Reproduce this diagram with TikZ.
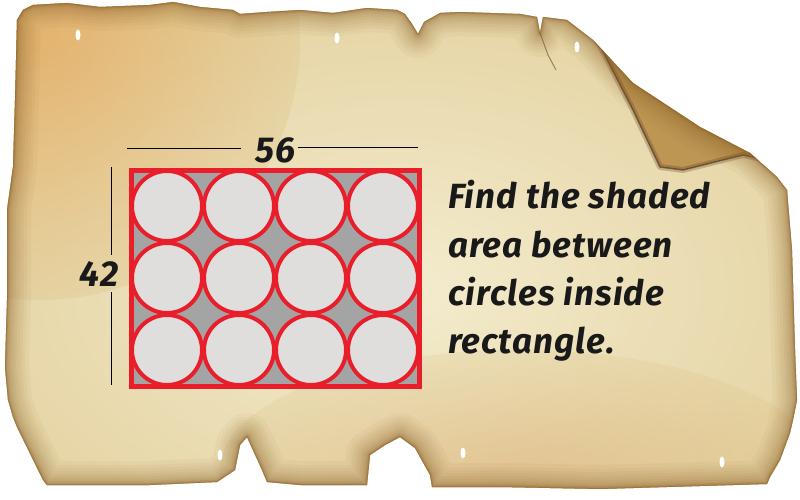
\documentclass[tikz,border=0pt]{standalone}
\usepackage{fontspec}
\newfontfamily\cmc{Fira Sans}[LetterSpace=3]
\definecolor{parchlight}{RGB}{243,236,206}
\definecolor{parchbase}{RGB}{222,198,140}
\definecolor{edgebrown}{RGB}{160,112,50}
\definecolor{burnt}{RGB}{72,46,20}
\definecolor{flapcol}{RGB}{190,150,84}
\definecolor{redline}{RGB}{232,30,42}
\definecolor{circfill}{RGB}{224,222,220}
\definecolor{gapfill}{RGB}{164,164,164}
\tikzset{
  circ/.style={circle, draw=redline, line width=4pt, fill=circfill, minimum size=70pt, inner sep=0pt},
  qline/.style={anchor=base west, inner sep=0pt, font=\cmc\bfseries\itshape\fontsize{35}{40}\selectfont, text=black!90},
  dimlab/.style={inner sep=0pt, font=\cmc\bfseries\itshape\fontsize{36}{40}\selectfont, text=black!90},
  dimline/.style={line width=1pt, black}
}
\begin{document}
\begin{tikzpicture}[x=1pt,y=-1pt]
\useasboundingbox (0,0) rectangle (800,500);
\fill[white] (0,0) rectangle (800,500);
\def\parch{(17,20) -- (23,10) -- (33,5) -- (67,3) -- (100,7) -- (150,5) -- (173,2) -- (200,7) -- (233,10) -- (240,14) -- (267,12) -- (300,10) -- (333,13) -- (367,8) -- (397,10) -- (405,14) -- (412,24) -- (418,34) -- (424,22) -- (440,13) -- (460,12) -- (490,13) -- (520,14) -- (537,17) -- (540,33) -- (543,17) -- (567,20) -- (593,40) -- (633,83) -- (700,127) -- (750,153) -- (777,177) -- (787,190) -- (792,250) -- (795,350) -- (797,400) -- (793,420) -- (790,433) -- (780,460) -- (770,477) -- (767,484) -- (700,486) -- (600,489) -- (500,487) -- (432,487) -- (430,475) -- (415,448) -- (400,437) -- (385,445) -- (370,455) -- (367,485) -- (300,485) -- (267,482) -- (262,470) -- (247,437) -- (240,445) -- (235,470) -- (217,482) -- (150,485) -- (47,485) -- (43,480) -- (17,427) -- (13,417) -- (8,400) -- (5,367) -- (7,300) -- (7,210) -- (13,167) -- (15,100) -- cycle}
\begin{scope}
  \clip \parch;
  \fill[parchbase] (0,0) rectangle (800,500);
  \shade[inner color=parchlight, outer color=parchbase] (400,290) ellipse (720 and 460);
  \shade[inner color=orange!60!brown, outer color=parchbase, opacity=0.35] (40,40) ellipse (260 and 260);
  \shade[inner color=brown!80!orange, outer color=parchbase, opacity=0.25] (520,470) ellipse (300 and 120);
  % folded corner flap
  \fill[flapcol] (593,40) -- (633,83) -- (700,127) -- (750,153) -- (777,177) -- (800,200) -- (800,160) -- (767,160) -- (743,155) -- (683,170) -- (660,167) -- (633,110) -- (597,40) -- cycle;
  \draw[burnt, line width=6pt, opacity=0.25, line join=round] (597,40) -- (633,110) -- (660,167) -- (683,170) -- (743,155) -- (767,160) -- (790,175);
  \draw[burnt, line width=1.5pt, opacity=0.6, line join=round] (597,40) -- (633,110) -- (660,167) -- (683,170) -- (743,155) -- (767,160) -- (790,175);
  \draw[burnt, line width=1pt, opacity=0.5] (540,33) -- (548,55) -- (556,70);
  % burnt edges
  \foreach \w/\o in {48/0.05,40/0.05,34/0.06,28/0.06,22/0.07,17/0.08,12/0.09,8/0.12,5/0.15,3/0.25,1.5/0.4}
    \draw[edgebrown!80!burnt, line width=\w pt, opacity=\o, line join=round] \parch;
\end{scope}
% small holes
\foreach \p in {(78,35),(337,38),(577,47),(220,455),(463,453),(722,462)}
  \fill[white] \p ellipse (2.5 and 5.5);
% rectangle and circles
\fill[gapfill] (131,170) rectangle (419,386);
\foreach \r [count=\i] in {206,278,350}
  \foreach \c [count=\j] in {167,239,311,383}
    \node[circ] (c\i\j) at (\c,\r) {};
\node[draw=redline, line width=5pt, minimum width=288pt, minimum height=216pt, inner sep=0pt] (rect) at (275,278) {};
% dimensions
\node[dimlab] (w) at (275,150) {56};
\node[dimlab] (h) at (99,274) {42};
\coordinate (wa) at (127,148);
\coordinate (wb) at (241,148);
\coordinate (wc) at (298,147);
\coordinate (wd) at (418,147);
\draw[dimline] (wa) -- (wb);
\draw[dimline] (wc) -- (wd);
\coordinate (ha) at (111,167);
\coordinate (hb) at (111,255);
\coordinate (hc) at (111,292);
\coordinate (hd) at (111,385);
\draw[dimline] (ha) -- (hb);
\draw[dimline] (hc) -- (hd);
% question
\node[qline] (q1) at (448,208) {Find the shaded};
\node[qline] (q2) at (448,257) {area between};
\node[qline] (q3) at (448,305) {circles inside};
\node[qline] (q4) at (448,353) {rectangle.};
\end{tikzpicture}
\end{document}
